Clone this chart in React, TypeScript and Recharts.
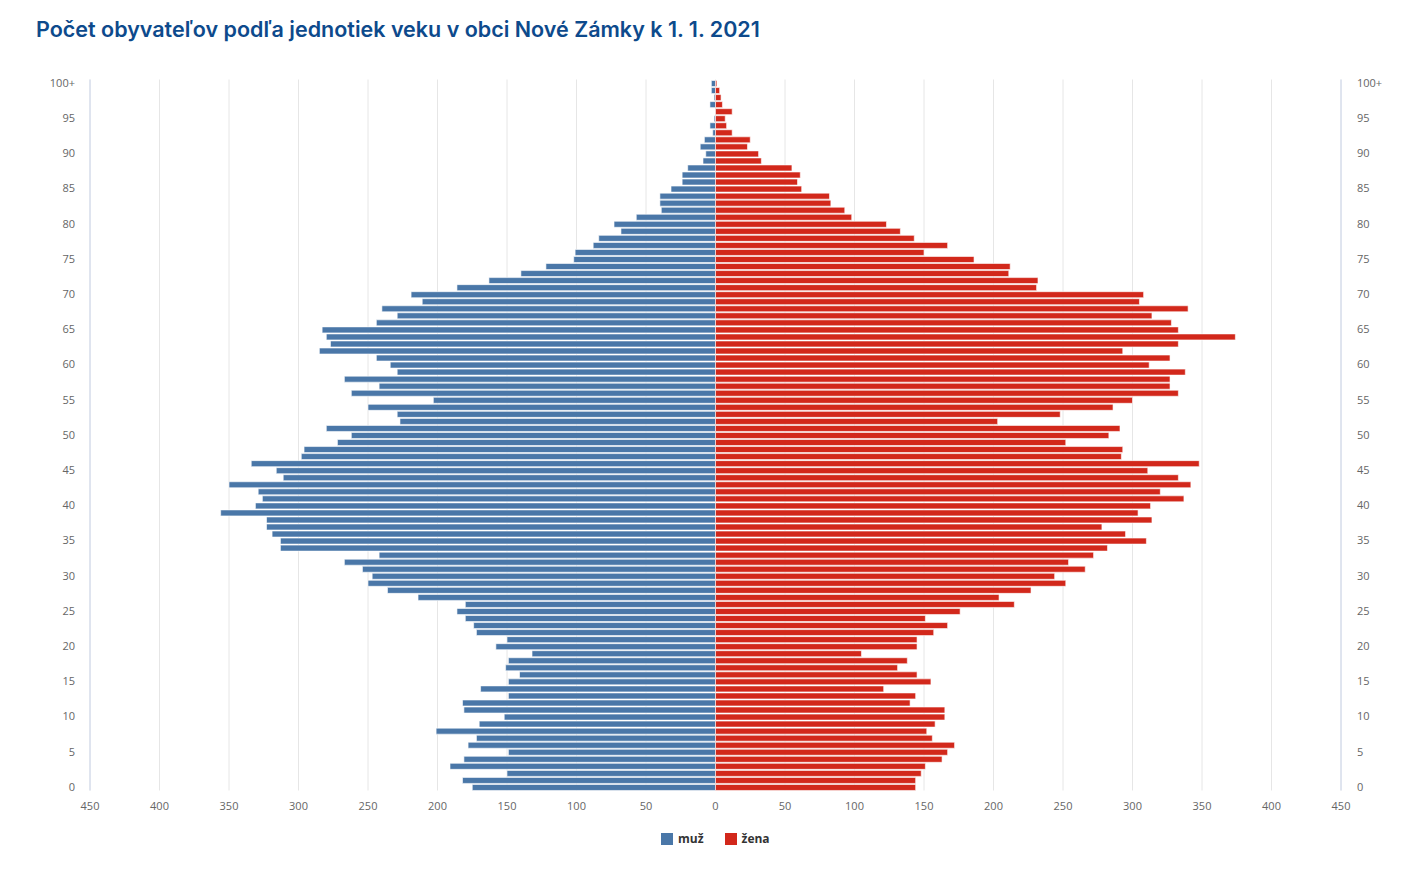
import { BarChart, Bar, XAxis, YAxis, CartesianGrid } from 'recharts';

// vekové kategórie (0 .. 100+)
const ages = [
  '0', '1', '2', '3', '4', '5', '6', '7', '8', '9',
  '10', '11', '12', '13', '14', '15', '16', '17', '18', '19',
  '20', '21', '22', '23', '24', '25', '26', '27', '28', '29',
  '30', '31', '32', '33', '34', '35', '36', '37', '38', '39',
  '40', '41', '42', '43', '44', '45', '46', '47', '48', '49',
  '50', '51', '52', '53', '54', '55', '56', '57', '58', '59',
  '60', '61', '62', '63', '64', '65', '66', '67', '68', '69',
  '70', '71', '72', '73', '74', '75', '76', '77', '78', '79',
  '80', '81', '82', '83', '84', '85', '86', '87', '88', '89',
  '90', '91', '92', '93', '94', '95', '96', '97', '98', '99',
  '100+',
];

const muz = [
  175, 182, 150, 191, 181, 149, 178, 172, 201, 170,
  152, 181, 182, 149, 169, 149, 141, 151, 149, 132,
  158, 150, 172, 174, 180, 186, 180, 214, 236, 250,
  247, 254, 267, 242, 313, 313, 319, 323, 323, 356,
  331, 326, 329, 350, 311, 316, 334, 298, 296, 272,
  262, 280, 227, 229, 250, 203, 262, 242, 267, 229,
  234, 244, 285, 277, 280, 283, 244, 229, 240, 211,
  219, 186, 163, 140, 122, 102, 101, 88, 84, 68,
  73, 57, 39, 40, 40, 32, 24, 24, 20, 9,
  7, 11, 8, 2, 4, 1, 0, 4, 1, 3,
  3,
];

const zena = [
  144, 144, 148, 151, 163, 167, 172, 156, 152, 158,
  165, 165, 140, 144, 121, 155, 145, 131, 138, 105,
  145, 145, 157, 167, 151, 176, 215, 204, 227, 252,
  244, 266, 254, 272, 282, 310, 295, 278, 314, 304,
  313, 337, 320, 342, 333, 311, 348, 292, 293, 252,
  283, 291, 203, 248, 286, 300, 333, 327, 327, 338,
  312, 327, 293, 333, 374, 333, 328, 314, 340, 305,
  308, 231, 232, 211, 212, 186, 150, 167, 143, 133,
  123, 98, 93, 83, 82, 62, 59, 61, 55, 33,
  31, 23, 25, 12, 8, 7, 12, 5, 4, 3,
  1,
];

const ageTicks = [
  '0', '5', '10', '15', '20', '25', '30', '35', '40', '45', '50',
  '55', '60', '65', '70', '75', '80', '85', '90', '95', '100+',
];

const valueTicks = [
  -450, -400, -350, -300, -250, -200, -150, -100, -50, 0,
  50, 100, 150, 200, 250, 300, 350, 400, 450,
];

const data = ages.map((vek, i) => ({ vek, muz: -muz[i], zena: zena[i] }));

const MALE = '#4a77a8';
const FEMALE = '#d2281b';
const FONT = '"Open Sans", "Noto Sans", sans-serif';

const AgeTick = (props: any) => {
  const { x, y, payload, textAnchor } = props;
  if (!ageTicks.includes(payload.value)) return <g />;
  return (
    <text x={x} y={y} dy="0.35em" textAnchor={textAnchor} fill="#666" fontSize={11} fontFamily={FONT}>
      {payload.value}
    </text>
  );
};

export default function App() {
  return (
    <div style={{ position: 'absolute', left: 0, top: 0, width: 1409, height: 879, background: '#fff' }}>
      <div
        style={{
          position: 'absolute',
          left: 36,
          top: 16,
          fontFamily: 'Inter, sans-serif',
          fontWeight: 600,
          fontSize: 21.5,
          color: '#0d4a8c',
          whiteSpace: 'nowrap',
        }}
      >
        Počet obyvateľov podľa jednotiek veku v obci Nové Zámky k 1. 1. 2021
      </div>

      <div style={{ position: 'absolute', left: 0, top: 0 }}>
        <BarChart
          width={1409}
          height={879}
          data={data}
          layout="vertical"
          stackOffset="sign"
          barCategoryGap={0}
          margin={{ top: 79.5, right: 18, bottom: 58.5, left: 40 }}
        >
          <CartesianGrid horizontal={false} stroke="#e6e6e6" />
          <XAxis
            type="number"
            domain={[-450, 450]}
            ticks={valueTicks}
            allowDataOverflow
            tickFormatter={(v: number) => String(Math.abs(v))}
            axisLine={false}
            tickLine={false}
            tickSize={0}
            tickMargin={12}
            height={30}
            tick={{ fill: '#666', fontSize: 11, fontFamily: FONT }}
          />
          <YAxis
            yAxisId="left"
            type="category"
            dataKey="vek"
            reversed
            interval={0}
            width={50}
            tickLine={false}
            tickSize={0}
            tickMargin={15}
            axisLine={{ stroke: '#ccd6eb' }}
            tick={<AgeTick />}
          />
          <YAxis
            yAxisId="right"
            orientation="right"
            type="category"
            dataKey="vek"
            reversed
            interval={0}
            width={50}
            tickLine={false}
            tickSize={0}
            tickMargin={16}
            axisLine={{ stroke: '#ccd6eb' }}
            tick={<AgeTick />}
          />
          <Bar
            yAxisId="left"
            dataKey="muz"
            name="muž"
            stackId="p"
            fill={MALE}
            stroke="#fff"
            strokeWidth={0.6}
            barSize={6}
            isAnimationActive={false}
          />
          <Bar
            yAxisId="left"
            dataKey="zena"
            name="žena"
            stackId="p"
            fill={FEMALE}
            stroke="#fff"
            strokeWidth={0.6}
            barSize={6}
            isAnimationActive={false}
          />
        </BarChart>
      </div>

      <div
        style={{
          position: 'absolute',
          left: 661,
          top: 830,
          display: 'flex',
          alignItems: 'center',
          fontFamily: FONT,
          fontSize: 12,
          fontWeight: 700,
          color: '#333',
        }}
      >
        <span style={{ width: 12, height: 12, background: MALE, display: 'inline-block', marginRight: 5 }} />
        <span style={{ marginRight: 21 }}>muž</span>
        <span style={{ width: 12, height: 12, background: FEMALE, display: 'inline-block', marginRight: 5 }} />
        <span>žena</span>
      </div>
    </div>
  );
}
